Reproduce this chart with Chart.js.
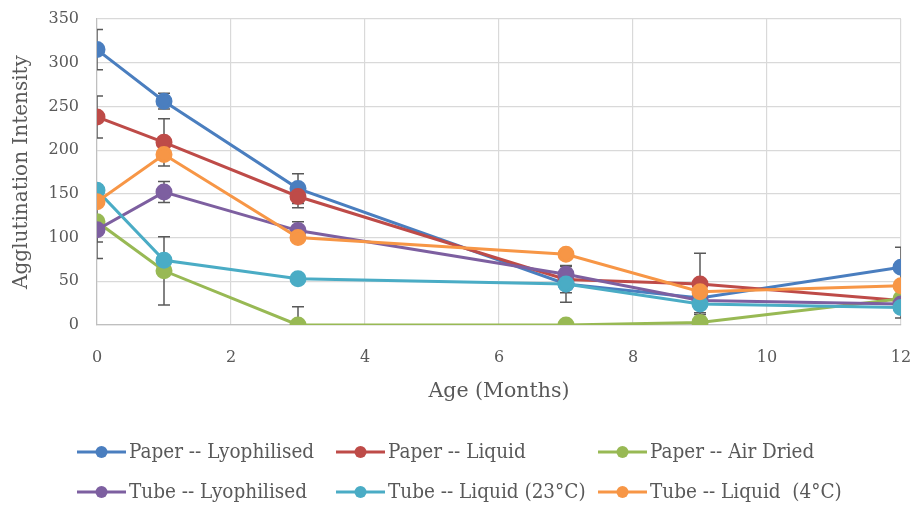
<!DOCTYPE html>
<html>
<head>
<meta charset="utf-8">
<script src="https://cdn.jsdelivr.net/npm/chart.js@4.4.1/dist/chart.umd.min.js"></script>
<style>
  html, body { margin: 0; padding: 0; background: #ffffff; }
  #wrap { position: relative; width: 915px; height: 505px; }
</style>
</head>
<body>
<div id="wrap"><canvas id="chart" width="915" height="505"></canvas></div>
<script>
// Sampling ages (months)
const months = [0, 1, 3, 7, 9, 12];
const yTicks = [0, 50, 100, 150, 200, 250, 300, 350];

const seriesNames = [
  'Paper -- Lyophilised',
  'Paper -- Liquid',
  'Paper -- Air Dried',
  'Tube -- Lyophilised',
  'Tube -- Liquid (23°C)',
  'Tube -- Liquid  (4°C)'
];

// Mean agglutination intensity per age
const paperLyophilised = [315, 256, 156, 47, 31, 66];
const paperLiquid      = [238, 209, 147, 52, 47, 28];
const paperAirDried    = [118, 62, 0, 0, 3, 30];
const tubeLyophilised  = [109, 152, 108, 58, 28, 24];
const tubeLiquid23     = [154, 74, 53, 47, 24, 20];
const tubeLiquid4      = [141, 195, 100, 81, 38, 45];

// Standard deviation (symmetric error) per age
const paperLyophilisedErr = [23, 9, 17, 21, 0, 23];
const paperLiquidErr      = [24, 27, 13, 0, 35, 0];
const paperAirDriedErr    = [42, 39, 21, 0, 0, 0];
const tubeLyophilisedErr  = [14, 12, 10, 9, 0, 0];
const tubeLiquid23Err     = [0, 0, 0, 10, 10, 12];
const tubeLiquid4Err      = [0, 0, 0, 0, 0, 0];

const seriesValues = [paperLyophilised, paperLiquid, paperAirDried, tubeLyophilised, tubeLiquid23, tubeLiquid4];
const seriesErrors = [paperLyophilisedErr, paperLiquidErr, paperAirDriedErr, tubeLyophilisedErr, tubeLiquid23Err, tubeLiquid4Err];
const seriesColors = ['#4A7EBF', '#BE4B48', '#98B954', '#7D5FA0', '#4AACC5', '#F79646'];

const FONT = "'DejaVu Serif', 'Liberation Serif', serif";
const LEGEND_FONT = "'DejaVu Serif Condensed', 'DejaVu Serif', serif";
const TEXT = '#595959';

const datasets = seriesNames.map((name, i) => ({
  label: name,
  data: months.map((m, j) => ({ x: m, y: seriesValues[i][j] })),
  errors: seriesErrors[i],
  borderColor: seriesColors[i],
  backgroundColor: seriesColors[i],
  pointBackgroundColor: seriesColors[i],
  pointBorderColor: seriesColors[i],
  pointRadius: 7,
  pointHoverRadius: 7,
  borderWidth: 3,
  tension: 0,
  order: seriesNames.length - 1 - i
}));

// Vertical error bars with caps, clipped to the plot area
const errorBars = {
  id: 'errorBars',
  beforeDatasetsDraw(chart) {
    const { ctx, chartArea, scales } = chart;
    ctx.save();
    ctx.beginPath();
    ctx.rect(chartArea.left, chartArea.top, chartArea.right - chartArea.left, chartArea.bottom - chartArea.top);
    ctx.clip();
    ctx.strokeStyle = '#595959';
    ctx.lineWidth = 1.5;
    chart.data.datasets.forEach(ds => {
      ds.data.forEach((p, j) => {
        const e = ds.errors[j];
        if (!e) return;
        const x = scales.x.getPixelForValue(p.x);
        const yHi = scales.y.getPixelForValue(p.y + e);
        const yLo = scales.y.getPixelForValue(p.y - e);
        ctx.beginPath();
        ctx.moveTo(x, yHi); ctx.lineTo(x, yLo);
        ctx.moveTo(x - 6, yHi); ctx.lineTo(x + 6, yHi);
        ctx.moveTo(x - 6, yLo); ctx.lineTo(x + 6, yLo);
        ctx.stroke();
      });
    });
    ctx.restore();
  }
};

// Two-row legend laid out in fixed columns under the axis
const gridLegend = {
  id: 'gridLegend',
  afterDraw(chart) {
    const { ctx } = chart;
    const cols = [77, 336, 598];
    const rows = [452, 492];
    ctx.save();
    ctx.font = '20.5px ' + LEGEND_FONT;
    ctx.textBaseline = 'middle';
    ctx.textAlign = 'left';
    chart.data.datasets.forEach((ds, i) => {
      const x = cols[i % 3];
      const y = rows[Math.floor(i / 3)];
      ctx.strokeStyle = ds.borderColor;
      ctx.lineWidth = 3;
      ctx.beginPath();
      ctx.moveTo(x, y); ctx.lineTo(x + 49, y);
      ctx.stroke();
      ctx.fillStyle = ds.borderColor;
      ctx.beginPath();
      ctx.arc(x + 24.5, y, 6, 0, Math.PI * 2);
      ctx.fill();
      ctx.fillStyle = TEXT;
      ctx.fillText(ds.label, x + 52, y + 1);
    });
    ctx.restore();
  }
};

new Chart(document.getElementById('chart'), {
  type: 'line',
  data: { datasets },
  plugins: [errorBars, gridLegend],
  options: {
    responsive: false,
    animation: false,
    events: [],
    layout: { padding: { top: 19, right: 14, bottom: 101, left: 0 } },
    plugins: {
      legend: { display: false },
      tooltip: { enabled: false }
    },
    scales: {
      x: {
        type: 'linear',
        min: 0,
        max: 12,
        afterFit(scale) {
          scale.height = 79;
          scale.paddingLeft = 0;
          scale.paddingRight = 0;
        },
        ticks: { stepSize: 2, color: TEXT, font: { family: FONT, size: 16 }, padding: 23, maxRotation: 0 },
        grid: { color: '#D9D9D9', lineWidth: 1.2, drawTicks: false },
        border: { color: '#BFBFBF', width: 1.2 },
        title: { display: true, text: 'Age (Months)', color: TEXT, font: { family: FONT, size: 20.5 }, padding: 0 }
      },
      y: {
        min: 0,
        max: 350,
        afterFit(scale) {
          scale.width = 97;
          scale.paddingTop = 0;
          scale.paddingBottom = 0;
        },
        afterBuildTicks(scale) { scale.ticks = yTicks.map(v => ({ value: v })); },
        ticks: { color: TEXT, font: { family: FONT, size: 16 }, padding: 18 },
        grid: { color: '#D9D9D9', lineWidth: 1.2, drawTicks: false },
        border: { color: '#BFBFBF', width: 1.2 },
        title: { display: true, text: 'Agglutination Intensity', color: TEXT, font: { family: FONT, size: 20 }, padding: { top: 10, bottom: 0 } }
      }
    }
  }
});
</script>
</body>
</html>
